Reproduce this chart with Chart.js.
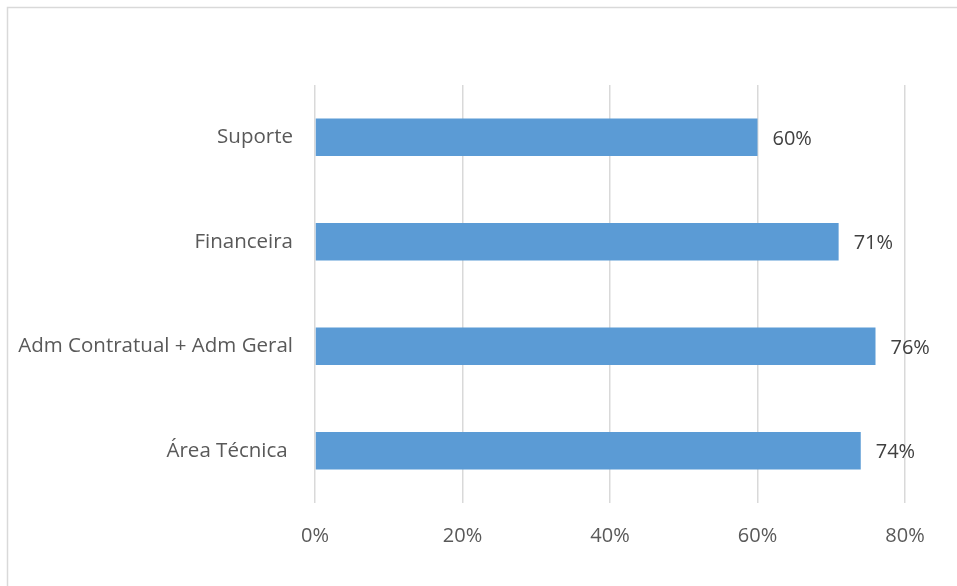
<!DOCTYPE html>
<html>
<head>
<meta charset="utf-8">
<script src="https://cdn.jsdelivr.net/npm/chart.js@4.4.1/dist/chart.umd.min.js"></script>
<style>
  html, body { margin: 0; padding: 0; background: #ffffff; }
  #wrap { position: relative; width: 957px; height: 586px; }
</style>
</head>
<body>
<div id="wrap"><canvas id="grafico" width="957" height="586"></canvas></div>
<script>
const categorias = ["Suporte", "Financeira", "Adm Contratual + Adm Geral", "Área Técnica "];
const valores = [60, 71, 76, 74];
const ticksX = [0, 20, 40, 60, 80];

const fonte = "'Open Sans', 'Noto Sans', sans-serif";

// moldura cinza e rótulos de dados
const moldura = {
  id: "moldura",
  beforeDraw(chart) {
    const ctx = chart.ctx;
    ctx.save();
    ctx.strokeStyle = "#d9d9d9";
    ctx.lineWidth = 1.5;
    ctx.beginPath();
    ctx.moveTo(7.5, 600);
    ctx.lineTo(7.5, 7.5);
    ctx.lineTo(970, 7.5);
    ctx.stroke();
    ctx.restore();
  }
};

const rotulos = {
  id: "rotulos",
  afterDatasetsDraw(chart) {
    const ctx = chart.ctx;
    const meta = chart.getDatasetMeta(0);
    ctx.save();
    ctx.font = "20px " + fonte;
    ctx.fillStyle = "#404040";
    ctx.textAlign = "left";
    ctx.textBaseline = "middle";
    meta.data.forEach((bar, i) => {
      ctx.fillText(valores[i] + "%", bar.x + 15, bar.y + 2);
    });
    ctx.restore();
  }
};

new Chart(document.getElementById("grafico"), {
  type: "bar",
  data: {
    labels: categorias,
    datasets: [{
      data: valores,
      backgroundColor: "#5b9bd5",
      borderWidth: 0,
      barPercentage: 0.5,
      categoryPercentage: 0.72
    }]
  },
  options: {
    indexAxis: "y",
    responsive: false,
    animation: false,
    layout: { padding: { top: 85, right: 52, bottom: 0, left: 0 } },
    plugins: { legend: { display: false }, tooltip: { enabled: false } },
    scales: {
      x: {
        min: 0,
        max: 80,
        afterBuildTicks(scale) { scale.ticks = ticksX.map(v => ({ value: v })); },
        afterFit(scale) { scale.height = 83; },
        grid: { color: "#d9d9d9", lineWidth: 1.5, drawTicks: false },
        border: { display: false },
        ticks: {
          padding: 21,
          color: "#595959",
          font: { family: fonte, size: 20 },
          callback: v => v + "%"
        }
      },
      y: {
        afterFit(scale) { scale.width = 315; },
        grid: { display: false, drawTicks: false },
        border: { display: false },
        ticks: {
          padding: 22,
          color: "#595959",
          font: { family: fonte, size: 20.5 }
        }
      }
    }
  },
  plugins: [moldura, rotulos]
});
</script>
</body>
</html>
